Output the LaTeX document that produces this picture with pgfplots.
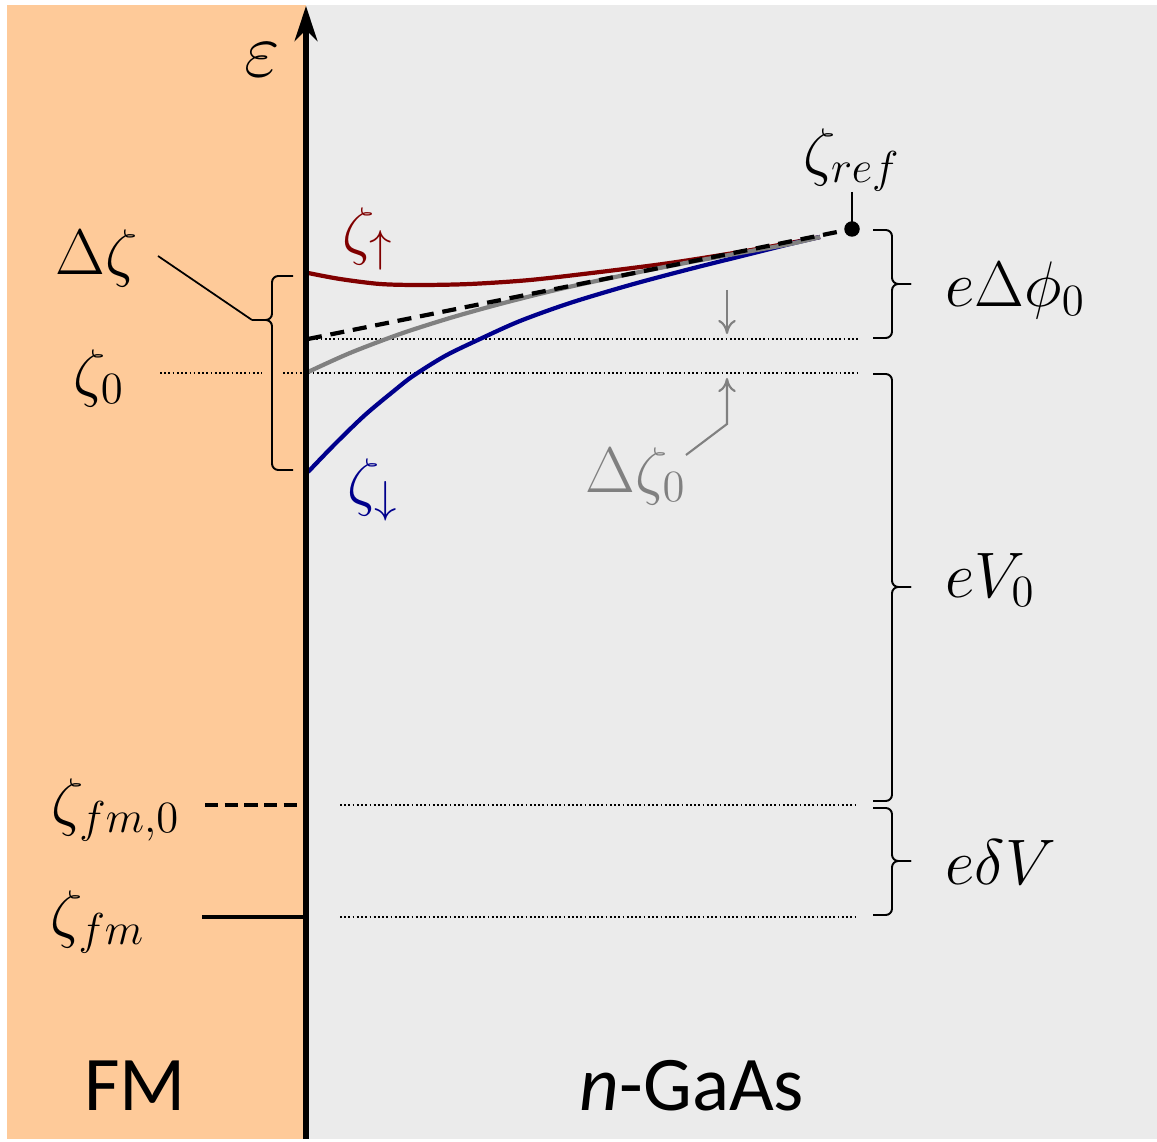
\documentclass[border=0pt]{standalone}
\usepackage[no-math]{fontspec}
\setmainfont{Carlito}
\usepackage{pgfplots}
\pgfplotsset{compat=1.18}
\usetikzlibrary{arrows.meta}
\definecolor{fmorange}{RGB}{254,202,153}
\definecolor{sclgray}{RGB}{235,235,235}
\definecolor{upred}{RGB}{128,0,0}
\definecolor{dnblue}{RGB}{0,0,140}
\definecolor{midgray}{RGB}{128,128,128}
\begin{document}
\begin{tikzpicture}
\begin{axis}[width=11.57cm,height=11.39cm,scale only axis,
  xmin=0,xmax=1157,ymin=0,ymax=1139,y dir=reverse,hide axis,clip=false]
\addplot[draw=none,forget plot] coordinates {(0,0)(1157,1139)};
% backgrounds
\addplot[fill=fmorange,draw=none] coordinates {(7,5)(306,5)(306,1139)(7,1139)} -- cycle;
\addplot[fill=sclgray,draw=none] coordinates {(306,5)(1157,5)(1157,1139)(306,1139)} -- cycle;
% dotted reference lines
\addplot[line width=0.5pt,dash pattern=on 0.5pt off 0.7pt] coordinates {(308,339)(858,339)};
\addplot[line width=0.5pt,dash pattern=on 0.5pt off 0.7pt] coordinates {(283,373)(858,373)};
\addplot[line width=0.5pt,dash pattern=on 0.5pt off 0.7pt] coordinates {(160,373)(262,373)};
\addplot[line width=0.5pt,dash pattern=on 0.5pt off 0.7pt] coordinates {(340,805)(856,805)};
\addplot[line width=0.5pt,dash pattern=on 0.5pt off 0.7pt] coordinates {(340,917)(856,917)};
% FM levels
\addplot[line width=1.2pt,dash pattern=on 3.8pt off 1.8pt] coordinates {(205,805)(305,805)};
\addplot[line width=1.2pt] coordinates {(202,917)(305,917)};
% curves
\addplot[line width=1.2pt,color=upred,smooth] coordinates {(308,273)(340,279)(380,284)(420,285)(470,284)(530,280)(600,272)(670,263)(740,252)(790,243)(820,237)};
\addplot[line width=1.2pt,color=dnblue,smooth] coordinates {(308,472)(335,444)(365,415)(395,390)(413,376)(445,356)(480,339)(520,321)(570,303)(630,285)(690,269)(750,254)(790,244)(820,237)};
\addplot[line width=1.2pt,color=midgray,smooth] coordinates {(308,372)(350,353)(400,334)(450,318)(500,304)(560,289)(620,276)(680,264)(740,253)(790,244)(820,237)};
\addplot[line width=1.2pt,dash pattern=on 4pt off 2.5pt] coordinates {(308,339)(852,229)};
\addplot[only marks,mark=*,mark size=2pt,black] coordinates {(852,229)};
% leaders
\addplot[line width=0.5pt] coordinates {(852,192)(852,224)};
\addplot[line width=0.5pt] coordinates {(158,256)(252,320)};
\addplot[line width=0.6pt,midgray,-{To[length=4pt,width=5pt]}] coordinates {(727,290)(727,334)};
\addplot[line width=0.6pt,midgray,-{To[length=4pt,width=5pt]}] coordinates {(686,455)(727,424)(727,378)};
% vertical energy axis
\addplot[line width=1.5pt,-{Stealth[length=10pt,width=6.5pt]}] coordinates {(306,1139)(306,6)};
% braces
\tikzset{brc/.style={line width=0.55pt,rounded corners=1.8pt}}
\draw[brc] (axis cs:293,276) -- (axis cs:272,276) -- (axis cs:272,320) -- (axis cs:252,320);
\draw[brc] (axis cs:252,320) -- (axis cs:272,320) -- (axis cs:272,470) -- (axis cs:293,470);
\draw[brc] (axis cs:873,230) -- (axis cs:892,230) -- (axis cs:892,284) -- (axis cs:911,284);
\draw[brc] (axis cs:911,284) -- (axis cs:892,284) -- (axis cs:892,338) -- (axis cs:873,338);
\draw[brc] (axis cs:873,374) -- (axis cs:892,374) -- (axis cs:892,587) -- (axis cs:911,587);
\draw[brc] (axis cs:911,587) -- (axis cs:892,587) -- (axis cs:892,801) -- (axis cs:873,801);
\draw[brc] (axis cs:873,808) -- (axis cs:892,808) -- (axis cs:892,861) -- (axis cs:911,861);
\draw[brc] (axis cs:911,861) -- (axis cs:892,861) -- (axis cs:892,915) -- (axis cs:873,915);
% labels
\tikzset{lbl/.style={inner sep=0pt,scale=1.06,font=\fontsize{17.28}{20}\selectfont}}
\node[lbl,font=\fontsize{20.74}{24}\selectfont] at (axis cs:262,60) {$\varepsilon$};
\node[lbl] at (axis cs:97,258) {$\Delta\zeta$};
\node[lbl] at (axis cs:99,378) {$\zeta_0$};
\node[lbl] at (axis cs:116,810) {$\zeta_{fm,0}$};
\node[lbl] at (axis cs:98,922) {$\zeta_{fm}$};
\node[lbl,text=upred] at (axis cs:368,239) {$\zeta_{\uparrow}$};
\node[lbl,text=dnblue] at (axis cs:373,490) {$\zeta_{\downarrow}$};
\node[lbl,text=midgray] at (axis cs:636,476) {$\Delta\zeta_0$};
\node[lbl] at (axis cs:852,160) {$\zeta_{ref}$};
\node[lbl,anchor=west] at (axis cs:945,290) {$e\Delta\phi_0$};
\node[lbl,anchor=west] at (axis cs:945,580) {$eV_0$};
\node[lbl,anchor=west] at (axis cs:945,862) {$e\delta V$};
\node[inner sep=0pt,font=\fontsize{22}{26}\selectfont] at (axis cs:135,1086) {FM};
\node[inner sep=0pt,font=\fontsize{22}{26}\selectfont] at (axis cs:692,1086) {\textit{n}-GaAs};
\end{axis}
\end{tikzpicture}
\end{document}
